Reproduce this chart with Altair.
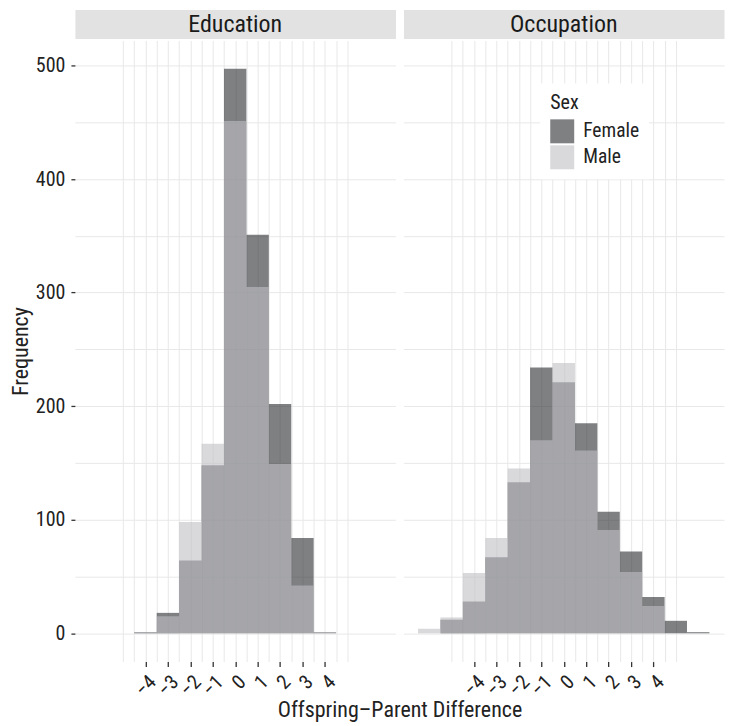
import altair as alt
import pandas as pd

# ---------------- data ----------------
panels = ["Education", "Occupation"]
sexes = ["Female", "Male"]

edu_centers = [-4, -3, -2, -1, 0, 1, 2, 3, 4]
edu_female = [1, 18, 64, 148, 497, 351, 202, 84, 1]
edu_male = [1, 15, 98, 167, 451, 305, 149, 42, 1]

occ_centers = [-6, -5, -4, -3, -2, -1, 0, 1, 2, 3, 4, 5, 6]
occ_female = [0, 12, 28, 67, 133, 234, 221, 185, 107, 72, 32, 11, 1]
occ_male = [4, 14, 53, 84, 145, 170, 238, 161, 91, 54, 24, 0, 0]

x_tick_labels = [-4, -3, -2, -1, 0, 1, 2, 3, 4]
x_grid_values = [-5, -4.5, -4, -3.5, -3, -2.5, -2, -1.5, -1, -0.5, 0,
                 0.5, 1, 1.5, 2, 2.5, 3, 3.5, 4, 4.5, 5]
y_major = [0, 100, 200, 300, 400, 500]
y_minor = [50, 150, 250, 350, 450]

# ---------------- style ----------------
FONT = "Liberation Sans Narrow, Arial Narrow, Roboto Condensed, DejaVu Sans Condensed, sans-serif"
TXT = "#222222"
GRID = "#e8e8e8"
STRIP = "#e2e2e2"
SEX_COLORS = ["#2a2b2f", "#bfc0c4"]
W, H, SH = 321, 622, 29


def frame(centers, female, male):
    rows = []
    for sex, counts in (("Female", female), ("Male", male)):
        for c, n in zip(centers, counts):
            rows.append({"sex": sex, "lo": c - 0.5, "hi": c + 0.5, "count": n})
    return pd.DataFrame(rows)


x_scale = alt.Scale(domain=[-7.15, 7.15], nice=False, zero=False)
y_scale = alt.Scale(domain=[-24.9, 522], nice=False, zero=False)
color_scale = alt.Scale(domain=sexes, range=SEX_COLORS)

x_label_list = "[" + ",".join(str(v) for v in x_tick_labels) + "]"
x_test = f"indexof({x_label_list}, datum.value) >= 0"
y_label_list = "[" + ",".join(str(v) for v in y_major) + "]"
y_test = f"indexof({y_label_list}, datum.value) >= 0"
y_values = sorted(y_major + y_minor)


def x_axis(with_title):
    kw = dict(
        values=x_grid_values, grid=True, gridColor=GRID, gridWidth=1, domain=False,
        tickColor={"condition": {"test": x_test, "value": "#333333"}, "value": "transparent"},
        tickSize=5, tickWidth=1.3,
        labelExpr=f"{x_test} ? format(datum.value, 'd') : ''",
        labelAngle=315, labelAlign="right", labelBaseline="top", labelPadding=5,
        labelFont=FONT, labelFontSize=20, labelColor=TXT,
        labelFlush=False, labelOverlap=False,
    )
    if with_title:
        kw.update(title="Offspring\u2013Parent Difference", titleX=325, titleY=55,
                  titleAlign="center", titleBaseline="alphabetic", titleFont=FONT,
                  titleFontSize=22, titleFontWeight="normal", titleColor=TXT)
    else:
        kw.update(title="")
    return alt.Axis(**kw)


def y_axis(left):
    if left:
        return alt.Axis(
            values=y_values, grid=True, gridColor=GRID, gridWidth=1, domain=False,
            tickColor={"condition": {"test": y_test, "value": "#333333"}, "value": "transparent"},
            tickSize=4, tickWidth=1.3,
            labelExpr=f"{y_test} ? format(datum.value, 'd') : ''",
            labelPadding=6, labelFont=FONT, labelFontSize=20, labelColor=TXT,
            labelOverlap=False, labelFlush=False,
            title="Frequency", titlePadding=3, titleFont=FONT, titleFontSize=22,
            titleFontWeight="normal", titleColor=TXT,
        )
    return alt.Axis(values=y_values, grid=True, gridColor=GRID, gridWidth=1,
                    domain=False, labels=False, ticks=False, title="")


def panel(df, left):
    if left:
        legend = None
    else:
        legend = alt.Legend(
            orient="none", legendX=137, legendY=43, title="Sex",
            titleFont=FONT, titleFontSize=20, titleFontWeight="normal", titleColor=TXT,
            titlePadding=6, labelFont=FONT, labelFontSize=19.5, labelColor=TXT,
            labelOffset=9, symbolType="square", symbolSize=576, symbolOpacity=0.6,
            symbolStrokeWidth=0, fillColor="white", padding=10, rowPadding=2,
        )
    color = alt.Color("sex:N", scale=color_scale, legend=legend, sort=sexes)
    return alt.Chart(df).mark_bar(opacity=0.6).encode(
        x=alt.X("lo:Q", scale=x_scale, axis=x_axis(left)),
        x2="hi:Q",
        y=alt.Y("count:Q", scale=y_scale, axis=y_axis(left)),
        y2=alt.datum(0),
        color=color,
    ).properties(width=W, height=H,
                 view=alt.ViewBackground(fill="white", stroke="transparent"))


def strip(name):
    return alt.Chart(pd.DataFrame({"panel": [name]})).mark_text(
        font=FONT, fontSize=24, color="#1a1a1a", baseline="middle", align="center"
    ).encode(
        text="panel:N", x=alt.value(W / 2), y=alt.value(SH / 2 + 1)
    ).properties(width=W, height=SH,
                 view=alt.ViewBackground(fill=STRIP, stroke="transparent"))


edu_df = frame(edu_centers, edu_female, edu_male)
occ_df = frame(occ_centers, occ_female, occ_male)

chart = alt.concat(
    strip(panels[0]), strip(panels[1]),
    panel(edu_df, True), panel(occ_df, False),
    columns=2, spacing={"row": 2, "column": 8}, bounds="flush",
).resolve_legend(color="independent").properties(
    padding=0, background="white"
).configure_view(stroke="transparent")

chart.save("out.html", embed_options={"renderer": "svg", "actions": False})
